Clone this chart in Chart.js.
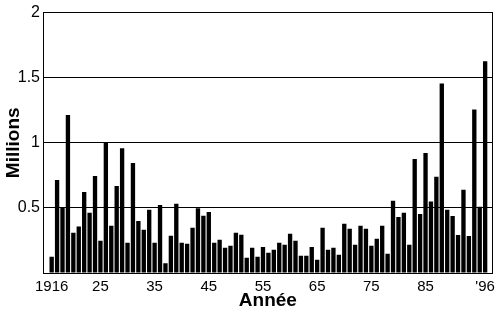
<!DOCTYPE html>
<html>
<head>
<meta charset="utf-8">
<script src="https://cdn.jsdelivr.net/npm/chart.js@4"></script>
<style>
html,body{margin:0;padding:0;background:#fff;}
#wrap{width:500px;height:313px;}
</style>
</head>
<body>
<div id="wrap"><canvas id="c" width="500" height="313"></canvas></div>
<script>
const years = [];
for (let y = 1916; y <= 1996; y++) years.push(y);
const values = [
  0.125, 0.714, 0.50, 1.214, 0.309, 0.357, 0.622, 0.462, 0.745, 0.247,
  1.005, 0.362, 0.668, 0.959, 0.232, 0.844, 0.40, 0.332, 0.485, 0.232,
  0.523, 0.074, 0.286, 0.531, 0.232, 0.224, 0.347, 0.497, 0.439, 0.469,
  0.232, 0.255, 0.194, 0.209, 0.309, 0.293, 0.117, 0.194, 0.125, 0.200,
  0.156, 0.179, 0.232, 0.217, 0.301, 0.247, 0.133, 0.133, 0.200, 0.102,
  0.347, 0.179, 0.194, 0.140, 0.378, 0.339, 0.217, 0.362, 0.339, 0.209,
  0.263, 0.362, 0.148, 0.554, 0.431, 0.462, 0.217, 0.875, 0.454, 0.921,
  0.549, 0.739, 1.456, 0.485, 0.438, 0.292, 0.639, 0.284, 1.256, 0.508,
  1.626
];
const tickYears = [1916, 1925, 1935, 1945, 1955, 1965, 1975, 1985, 1996];
const tickLabels = ["1916", "25", "35", "45", "55", "65", "75", "85", "'96"];
const yTicks = [0.5, 1, 1.5, 2];
const yTickLabels = ["0.5", "1", "1.5", "2"];

const font = "'Liberation Sans', Arial, sans-serif";
new Chart(document.getElementById('c'), {
  type: 'bar',
  data: {
    datasets: [{
      data: years.map((y, i) => ({x: y, y: values[i]})),
      backgroundColor: '#000',
      borderWidth: 0,
      barPercentage: 0.8,
      categoryPercentage: 1.0
    }]
  },
  options: {
    responsive: false,
    animation: false,
    devicePixelRatio: 1,
    layout: {padding: {top: 9, right: 5, left: 0, bottom: 0}},
    plugins: {legend: {display: false}, tooltip: {enabled: false}},
    scales: {
      x: {
        type: 'linear',
        min: 1914.4,
        max: 1997.4,
        offset: false,
        afterBuildTicks: (axis) => { axis.ticks = tickYears.map(v => ({value: v})); },
        afterFit: (axis) => { axis.height = 40; },
        ticks: {
          autoSkip: false,
          maxRotation: 0,
          color: '#000',
          padding: 5,
          font: {family: font, size: 15},
          callback: (v) => { const i = tickYears.indexOf(v); return i >= 0 ? tickLabels[i] : ''; }
        },
        grid: {display: false, drawTicks: false},
        border: {display: true, color: '#000', width: 1},
        title: {display: true, text: 'Année', color: '#000', padding: {top: 0, bottom: 1},
          font: {family: font, size: 19, weight: 'bold'}}
      },
      y: {
        min: 0,
        max: 2,
        afterBuildTicks: (axis) => { axis.ticks = [0].concat(yTicks).map(v => ({value: v})); },
        afterFit: (axis) => { axis.width = 43; },
        ticks: {
          color: '#000',
          padding: 3,
          font: {family: font, size: 16},
          callback: (v) => { const i = yTicks.indexOf(v); return i >= 0 ? yTickLabels[i] : ''; }
        },
        grid: {color: '#000', lineWidth: 1, drawTicks: false},
        border: {display: true, color: '#000', width: 1},
        title: {display: true, text: 'Millions', color: '#000', padding: {top: 2, bottom: 0},
          font: {family: font, size: 19, weight: 'bold'}}
      },
      y2: {
        position: 'right',
        min: 0,
        max: 2,
        ticks: {display: false},
        grid: {drawOnChartArea: false, drawTicks: false},
        border: {display: true, color: '#000', width: 1}
      }
    }
  }
});
</script>
</body>
</html>
